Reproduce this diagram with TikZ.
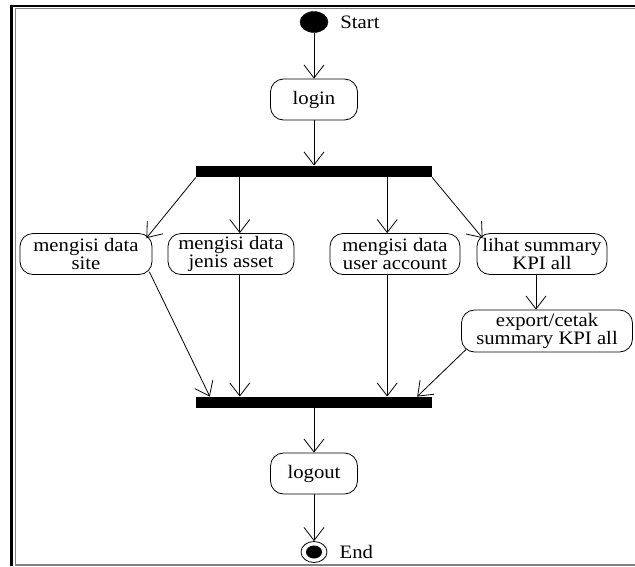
\documentclass[tikz,border=0pt]{standalone}
\usepackage{fontspec}
\setmainfont[FakeStretch=1.09]{Liberation Serif}
\usetikzlibrary{arrows.meta,positioning,shapes.geometric}

\tikzset{
	activity/.style={draw, line width=0.8pt, rounded corners=13pt, minimum height=41pt,
		inner xsep=3pt, inner ysep=2pt, align=center, font=\fontsize{19}{17.5}\selectfont},
	syncbar/.style={fill=black, minimum width=236pt, minimum height=11.5pt, inner sep=0pt},
	flow/.style={line width=0.8pt, -{Straight Barb[length=13pt,width=20pt]}},
	statelabel/.style={inner sep=0pt, font=\fontsize{19}{17.5}\selectfont},
}

\begin{document}
\begin{tikzpicture}[x=1pt, y=-1pt]
\useasboundingbox (0,0) rectangle (635,566);

% frame
\draw[line width=2.5pt] (11.5,566) -- (11.5,6.2) -- (635,6.2);
\draw[gray, line width=1.3pt] (635,8.8) -- (15.8,8.8) -- (15.8,565) -- (635,565);

\pgfmathsetmacro{\midx}{314}

\node[ellipse, fill=black, draw, minimum width=28pt, minimum height=21pt, inner sep=0pt] (start) at (\midx,22) {};
\node[statelabel, right=12pt of start] (startlabel) {Start};

\node[activity, minimum width=87pt] (login) at (\midx,99.5) {login};
\node[syncbar] (fork) at (\midx,171.5) {};

\node[activity, minimum width=132pt] (site) at (86,254) {mengisi data\\site};
\node[activity, minimum width=126pt] (jenis) at (231,254) {mengisi data\\jenis asset};
\node[activity, minimum width=130pt] (user) at (395,254) {mengisi data\\user account};
\node[activity, minimum width=130pt] (lihat) at (542,254) {lihat summary\\KPI all};
\node[activity, minimum width=171pt, minimum height=42pt] (export) at (547,331) {export/cetak\\summary KPI all};

\node[syncbar] (join) at (\midx,402.5) {};
\node[activity, minimum width=87pt] (logout) at (\midx,473.5) {logout};

\node[ellipse, draw, line width=0.8pt, minimum width=26pt, minimum height=21pt, inner sep=0pt] (end) at (\midx,552) {};
\fill (end) ellipse (8pt and 6.5pt);
\node[statelabel, right=12pt of end] (endlabel) {End};

\draw[flow] (start) -- (login);
\draw[flow] (login) -- (fork);

\draw[flow] (fork.south west) -- ([xshift=-6pt,yshift=-5pt]site.north east);
\draw[flow] ([xshift=44pt]fork.south west) -- ([xshift=44pt]fork.south west |- jenis.north);
\draw[flow] ([xshift=-45pt]fork.south east) -- ([xshift=-45pt]fork.south east |- user.north);
\draw[flow] (fork.south east) -- ([xshift=6pt,yshift=-5pt]lihat.north west);
\draw[flow] ([xshift=-6pt]lihat.south) -- ([xshift=-6pt]lihat.south |- export.north);

\draw[flow] ([xshift=-3pt,yshift=3pt]site.south east) -- ([xshift=14pt]join.north west);
\draw[flow] ([xshift=44pt]join.north west |- jenis.south) -- ([xshift=44pt]join.north west);
\draw[flow] ([xshift=-45pt]join.north east |- user.south) -- ([xshift=-45pt]join.north east);
\draw[flow] ([xshift=5pt,yshift=3pt]export.south west) -- ([xshift=-15pt]join.north east);

\draw[flow] (join) -- (logout);
\draw[flow] (logout) -- (end);
\end{tikzpicture}
\end{document}
